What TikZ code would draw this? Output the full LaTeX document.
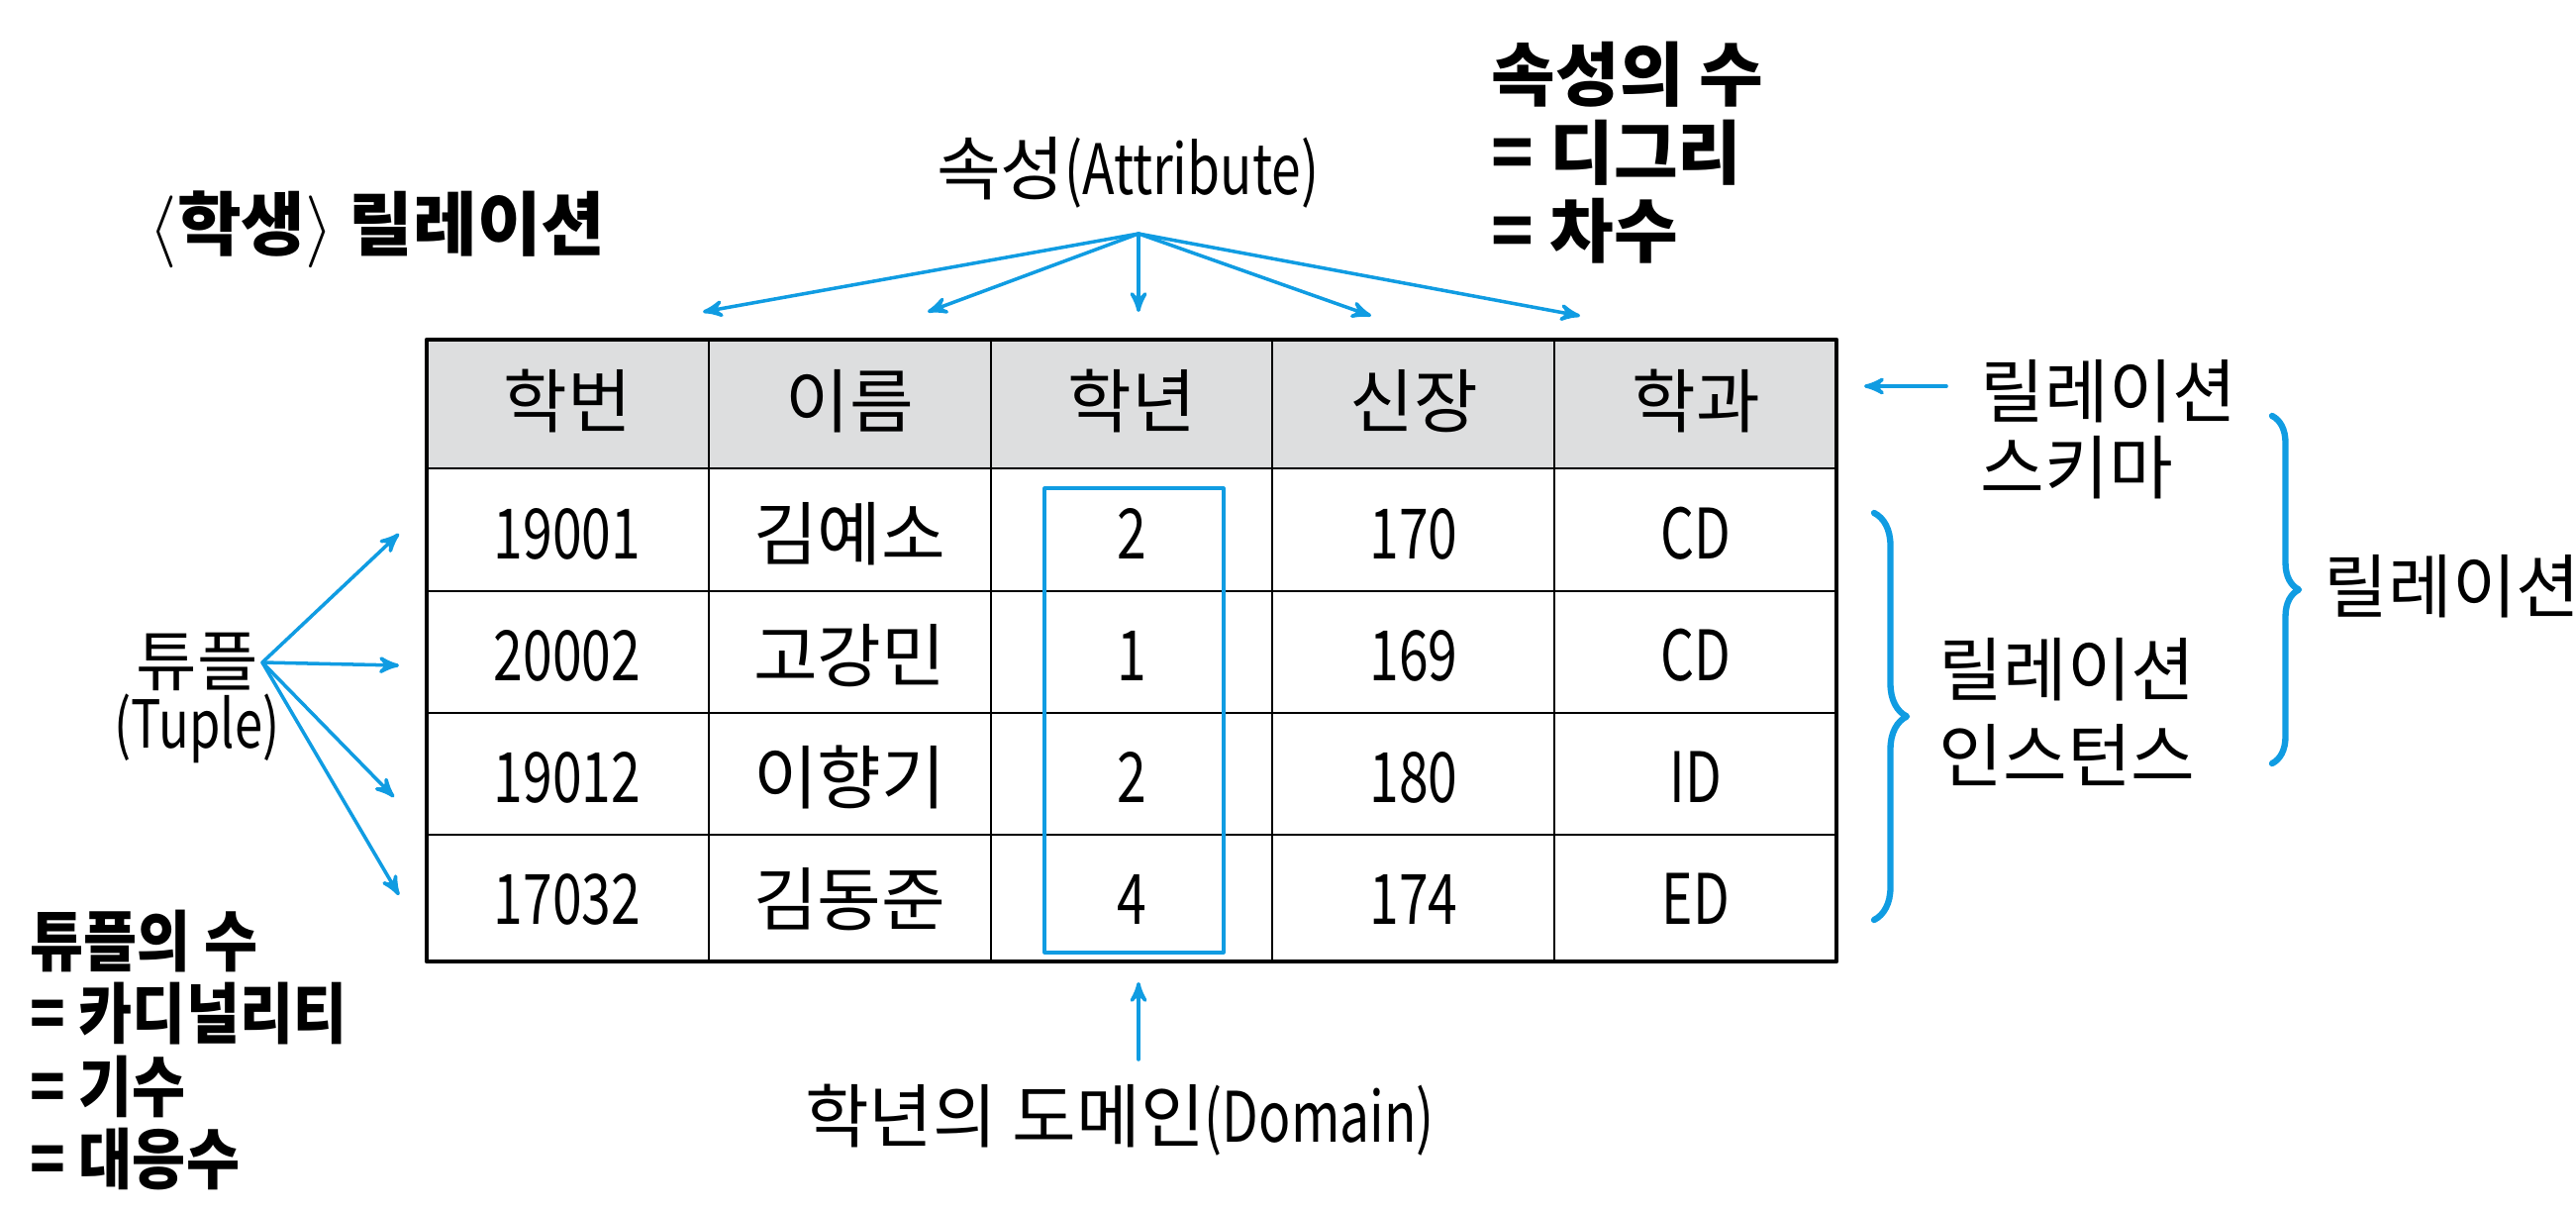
\documentclass[tikz,border=0pt]{standalone}
\usepackage{fontspec}
\setmainfont{Noto Sans CJK KR}
\newfontfamily\nar{Noto Sans CJK KR}[FakeStretch=0.76]
\newfontfamily\semi{Noto Sans CJK KR}[FakeStretch=0.88]
\usepackage{tikz}
\usetikzlibrary{arrows,decorations.pathreplacing}
\definecolor{refblue}{RGB}{16,156,226}
\definecolor{hdrgray}{RGB}{221,222,223}
\tikzset{
  cell/.style={inner sep=0pt,font=\fontsize{20}{24}\selectfont},
  bluearr/.style={->,draw=refblue,line width=1pt},
  bluebrace/.style={draw=refblue,line width=1.8pt,decorate,decoration={brace,amplitude=#1}},
}
\begin{document}
\begin{tikzpicture}[line cap=round,line join=round,>=stealth',x=1.0cm,y=1.0cm]
        \useasboundingbox (0,0) rectangle (26.02,12.23);
        % table
        \fill [hdrgray] (4.31,7.50) rectangle (18.55,8.80);
        \draw [line width=0.6pt] (4.31,7.50) -- (18.55,7.50);
        \draw [line width=0.6pt] (4.31,6.26) -- (18.55,6.26);
        \draw [line width=0.6pt] (4.31,5.03) -- (18.55,5.03);
        \draw [line width=0.6pt] (4.31,3.80) -- (18.55,3.80);
        \draw [line width=0.6pt] (7.16,2.52) -- (7.16,8.80);
        \draw [line width=0.6pt] (10.01,2.52) -- (10.01,8.80);
        \draw [line width=0.6pt] (12.85,2.52) -- (12.85,8.80);
        \draw [line width=0.6pt] (15.70,2.52) -- (15.70,8.80);
        \draw [line width=1.3pt] (4.31,2.52) rectangle (18.55,8.80);
        \node [cell] (h1) at (5.73,8.18) {학번};
        \node [cell] (h2) at (8.58,8.18) {이름};
        \node [cell] (h3) at (11.43,8.18) {학년};
        \node [cell] (h4) at (14.28,8.18) {신장};
        \node [cell] (h5) at (17.13,8.18) {학과};
        \node [cell] (r1c1) at (5.73,6.84) {\nar 19001};
        \node [cell] (r1c2) at (8.58,6.84) {김예소};
        \node [cell] (r1c3) at (11.43,6.84) {\nar 2};
        \node [cell] (r1c4) at (14.28,6.84) {\nar 170};
        \node [cell] (r1c5) at (17.13,6.84) {\nar CD};
        \node [cell] (r2c1) at (5.73,5.61) {\nar 20002};
        \node [cell] (r2c2) at (8.58,5.61) {고강민};
        \node [cell] (r2c3) at (11.43,5.61) {\nar 1};
        \node [cell] (r2c4) at (14.28,5.61) {\nar 169};
        \node [cell] (r2c5) at (17.13,5.61) {\nar CD};
        \node [cell] (r3c1) at (5.73,4.38) {\nar 19012};
        \node [cell] (r3c2) at (8.58,4.38) {이향기};
        \node [cell] (r3c3) at (11.43,4.38) {\nar 2};
        \node [cell] (r3c4) at (14.28,4.38) {\nar 180};
        \node [cell] (r3c5) at (17.13,4.38) {\nar ID};
        \node [cell] (r4c1) at (5.73,3.15) {\nar 17032};
        \node [cell] (r4c2) at (8.58,3.15) {김동준};
        \node [cell] (r4c3) at (11.43,3.15) {\nar 4};
        \node [cell] (r4c4) at (14.28,3.15) {\nar 174};
        \node [cell] (r4c5) at (17.13,3.15) {\nar ED};
        % domain box
        \draw [refblue,line width=0.9pt] (10.55,2.61) rectangle (12.36,7.30);
        % labels
        \node [cell,anchor=west,font=\fontsize{20}{24}\selectfont\bfseries] (title) at (1.50,9.91) {\(\big\langle\)학생\(\big\rangle\) 릴레이션};
        \node [cell] (attr) at (11.39,10.49) {속성{\nar(Attribute)}};
        \node [cell,anchor=west,align=left,font=\fontsize{20}{22.5}\selectfont\bfseries] (degree) at (15.06,10.69) {속성의 수\\= 디그리\\= 차수};
        \node [cell,align=center,font=\fontsize{19}{17}\selectfont] (tuple) at (1.99,5.18) {튜플\\{\nar(Tuple)}};
        \node [cell,anchor=west,align=left,font=\semi\fontsize{19}{20.8}\selectfont\bfseries] (card) at (0.30,1.625) {튜플의 수\\= 카디널리티\\= 기수\\= 대응수};
        \node [cell] (dom) at (11.31,0.92) {학년의 도메인{\nar(Domain)}};
        \node [cell,anchor=west,align=left,font=\fontsize{20}{22}\selectfont] (schema) at (20.00,7.89) {릴레이션\\스키마};
        \node [cell,anchor=west,align=left,font=\fontsize{20}{25}\selectfont] (inst) at (19.58,5.04) {릴레이션\\인스턴스};
        \node [cell,anchor=west] (rel) at (23.47,6.31) {릴레이션};
        % arrows
        \coordinate (attro) at (11.50,9.87);
        \coordinate (a1) at (7.10,9.08);
        \coordinate (a2) at (9.37,9.08);
        \coordinate (a3) at (11.50,9.08);
        \coordinate (a4) at (13.85,9.04);
        \coordinate (a5) at (15.96,9.04);
        \draw [bluearr] (attro) -- (a1);
        \draw [bluearr] (attro) -- (a2);
        \draw [bluearr] (attro) -- (a3);
        \draw [bluearr] (attro) -- (a4);
        \draw [bluearr] (attro) -- (a5);
        \coordinate (tupo) at (2.65,5.54);
        \coordinate (t1) at (4.03,6.84);
        \coordinate (t2) at (4.03,5.51);
        \coordinate (t3) at (3.98,4.18);
        \coordinate (t4) at (4.03,3.19);
        \draw [bluearr] (tupo) -- (t1);
        \draw [bluearr] (tupo) -- (t2);
        \draw [bluearr] (tupo) -- (t3);
        \draw [bluearr] (tupo) -- (t4);
        \coordinate (sch) at (19.66,8.33);
        \coordinate (schend) at (18.83,8.33);
        \draw [bluearr] (sch) -- (schend);
        \coordinate (domo) at (11.50,1.53);
        \coordinate (domend) at (11.50,2.31);
        \draw [bluearr] (domo) -- (domend);
        % braces
        \draw [bluebrace=0.33cm] (18.93,7.05) -- (18.93,2.94);
        \draw [bluebrace=0.27cm] (22.95,8.03) -- (22.95,4.52);
\end{tikzpicture}
\end{document}
